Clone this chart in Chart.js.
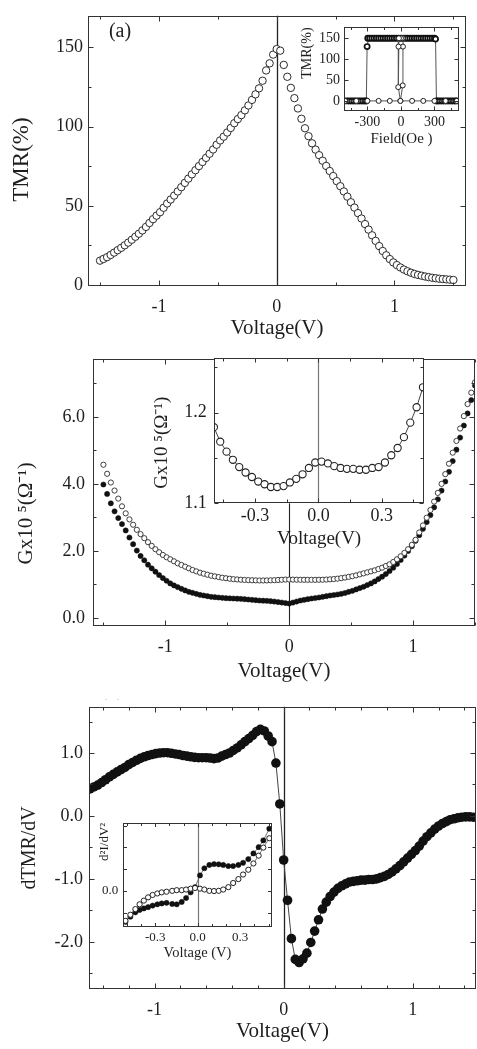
<!DOCTYPE html>
<html><head><meta charset="utf-8">
<script src="https://cdn.jsdelivr.net/npm/chart.js@4.4.1/dist/chart.umd.min.js"></script>
<style>
html,body{margin:0;padding:0;background:#fff;}
body{width:477px;height:1049px;position:relative;overflow:hidden;}
canvas{position:absolute;}
</style></head><body>
<canvas id="ca"></canvas>
<canvas id="cb"></canvas>
<canvas id="cc"></canvas>
<canvas id="ia"></canvas>
<canvas id="ib"></canvas>
<canvas id="ic"></canvas>
<script>
// ---------- data ----------
const voltage = [-1.50,-1.47,-1.44,-1.41,-1.38,-1.35,-1.32,-1.29,-1.26,-1.23,-1.20,-1.17,-1.14,-1.11,-1.08,-1.05,-1.02,-0.99,-0.96,-0.93,-0.90,-0.87,-0.84,-0.81,-0.78,-0.75,-0.72,-0.69,-0.66,-0.63,-0.60,-0.57,-0.54,-0.51,-0.48,-0.45,-0.42,-0.39,-0.36,-0.33,-0.30,-0.27,-0.24,-0.21,-0.18,-0.15,-0.12,-0.09,-0.06,-0.03,0.00,0.03,0.06,0.09,0.12,0.15,0.18,0.21,0.24,0.27,0.30,0.33,0.36,0.39,0.42,0.45,0.48,0.51,0.54,0.57,0.60,0.63,0.66,0.69,0.72,0.75,0.78,0.81,0.84,0.87,0.90,0.93,0.96,0.99,1.02,1.05,1.08,1.11,1.14,1.17,1.20,1.23,1.26,1.29,1.32,1.35,1.38,1.41,1.44,1.47,1.50];

const tmrA = [15.4,16.5,17.6,19.0,20.5,22.0,23.5,25.1,26.8,28.6,
30.5,32.4,34.5,36.7,39.2,41.6,43.8,46.0,48.8,51.5,
54.0,56.5,59.1,61.8,64.5,67.2,69.9,72.5,75.1,77.7,
80.3,82.9,85.6,88.6,91.3,93.7,96.3,99.2,102.2,104.8,
107.3,110.3,113.4,116.9,120.4,124.2,129.0,135.5,140.0,145.5,
149.0,
148,139,131.5,124.5,118,111.5,105,99,94,89.5,
85.5,82,78.5,75.2,72,68.8,65.6,62.4,59.1,55.8,
52.3,48.9,45.4,42.0,38.5,35.0,31.4,27.9,24.6,21.5,
18.8,16.4,14.3,12.6,11.1,9.8,8.7,7.8,7.0,6.4,
5.9,5.4,5.0,4.6,4.3,4.0,3.8,3.6,3.4,3.2];

const gOpen = [4.57,4.30,4.04,3.80,3.56,3.33,3.12,2.94,2.78,2.63,
2.50,2.38,2.26,2.15,2.05,1.96,1.88,1.81,1.75,1.69,
1.63,1.58,1.53,1.48,1.43,1.39,1.35,1.32,1.29,1.26,
1.24,1.22,1.20,1.185,1.17,1.157,1.148,1.14,1.134,1.129,
1.124,1.121,1.118,1.118,1.119,1.123,1.127,1.133,1.139,1.145,
1.146,
1.144,1.141,1.139,1.138,1.138,1.137,1.137,1.139,1.140,1.145,
1.152,1.160,1.172,1.188,1.205,1.225,1.245,1.27,1.30,1.33,
1.36,1.39,1.42,1.46,1.50,1.55,1.60,1.67,1.75,1.84,
1.94,2.05,2.18,2.33,2.55,2.76,2.99,3.22,3.47,3.73,
4.00,4.29,4.60,4.93,5.28,5.65,6.02,6.38,6.72,7.03];

const gFilled = [3.98,3.70,3.42,3.18,2.98,2.80,2.61,2.40,2.20,2.01,
1.85,1.72,1.59,1.48,1.38,1.28,1.19,1.11,1.03,0.97,
0.92,0.87,0.82,0.78,0.75,0.72,0.69,0.67,0.65,0.63,
0.62,0.61,0.60,0.59,0.585,0.58,0.575,0.57,0.56,0.55,
0.54,0.53,0.52,0.515,0.51,0.50,0.49,0.475,0.46,0.445,
0.43,
0.46,0.49,0.52,0.54,0.56,0.58,0.595,0.61,0.63,0.65,
0.67,0.685,0.70,0.72,0.745,0.78,0.81,0.85,0.89,0.93,
0.98,1.03,1.09,1.16,1.23,1.31,1.40,1.50,1.61,1.73,
1.86,2.00,2.14,2.30,2.47,2.66,2.86,3.07,3.30,3.54,
3.80,4.07,4.36,4.68,5.02,5.38,5.74,6.10,6.50,6.93];

const dTmr = [0.43,0.46,0.49,0.53,0.575,0.62,0.66,0.70,0.735,0.77,
0.815,0.85,0.885,0.915,0.94,0.96,0.975,0.99,1.0,1.005,
1.005,0.995,0.985,0.975,0.96,0.95,0.94,0.93,0.925,0.925,
0.925,0.92,0.91,0.92,0.95,0.975,1.0,1.04,1.08,1.13,
1.18,1.23,1.28,1.34,1.375,1.35,1.27,1.18,0.84,0.19,
-0.70,
-1.34,-1.95,-2.28,-2.33,-2.27,-2.18,-2.01,-1.83,-1.65,-1.48,
-1.37,-1.28,-1.21,-1.15,-1.11,-1.08,-1.05,-1.04,-1.03,-1.02,
-1.02,-1.01,-1.01,-1.0,-0.98,-0.96,-0.93,-0.89,-0.84,-0.79,
-0.73,-0.67,-0.61,-0.55,-0.48,-0.40,-0.33,-0.27,-0.21,-0.16,
-0.12,-0.09,-0.06,-0.045,-0.03,-0.02,-0.015,-0.015,-0.02,-0.02];

// inset (a): TMR loop vs field
const loopField = [-500,-480,-460,-440,-420,-400,-380,-360,-340,-320,-310,-303,-297,-280,-260,-240,-220,-200,-180,-160,-140,-120,-100,-80,-60,-40,-20,0,20,40,60,80,100,120,140,160,180,200,220,240,260,280,300,310,318,330,350,370,390,410,430,450,470,490,500];
const loopTmr = [0,0,0,0,0,0,0,0,0,0,0,130,150,150,150,150,150,150,150,150,150,150,150,150,150,150,150,150,150,150,150,150,150,150,150,150,150,150,150,150,150,150,150,148,0,0,0,0,0,0,0,0,0,0,0];
const freeLoopField = [-500,-400,-300,-200,-100,-5,16,18,20,15,0,-18,-22,-24,-5,100,200,300,400,500];
const freeLoopTmr = [0,0,0,0,0,0,37,130,150,150,150,150,130,33,0,0,0,0,0,0];

// inset (b): G (open) at low bias
const insetBVoltage = [-0.495,-0.465,-0.435,-0.405,-0.375,-0.345,-0.315,-0.285,-0.255,-0.225,-0.195,-0.165,-0.135,-0.105,-0.075,-0.045,-0.015,0.015,0.045,0.075,0.105,0.135,0.165,0.195,0.225,0.255,0.285,0.315,0.345,0.375,0.405,0.435,0.465,0.495];
const insetBG = [1.184,1.168,1.157,1.148,1.140,1.134,1.129,1.124,1.121,1.118,1.118,1.119,1.123,1.127,1.132,1.139,1.145,1.146,1.144,1.141,1.139,1.138,1.138,1.137,1.137,1.139,1.140,1.145,1.153,1.161,1.173,1.189,1.206,1.228];

// inset (c): d2I/dV2
const insetCVoltage = [-0.51,-0.475,-0.44,-0.41,-0.38,-0.35,-0.318,-0.285,-0.254,-0.22,-0.18,-0.148,-0.113,-0.082,-0.05,-0.019,0.016,0.047,0.082,0.115,0.148,0.18,0.216,0.25,0.287,0.32,0.357,0.393,0.43,0.463,0.505];
const insetCFilled = [-1.43,-1.19,-0.99,-0.88,-0.81,-0.75,-0.68,-0.62,-0.58,-0.55,-0.60,-0.62,-0.51,-0.33,-0.07,0.17,0.71,1.04,1.19,1.23,1.22,1.19,1.14,1.14,1.19,1.29,1.46,1.72,2.01,2.32,2.86];
const insetCOpen = [-1.38,-1.10,-0.84,-0.62,-0.45,-0.30,-0.19,-0.12,-0.07,-0.04,0.0,0.03,0.03,0.06,0.10,0.13,0.10,0.06,0.0,-0.01,0.0,0.06,0.17,0.36,0.54,0.75,0.97,1.26,1.62,1.99,2.42];

// tick labels
const ticksVoltMain = [-1, 0, 1];
const ticksTmrA = [0, 50, 100, 150];
const ticksGB = [0, 2, 4, 6];
const ticksDTmr = [-2, -1, 0, 1];
const ticksField = [-300, 0, 300];
const ticksTmrInset = [0, 50, 100, 150];
const ticksVoltInset = [-0.3, 0, 0.3];
const ticksGInset = [1.1, 1.2];
const ticksD2I = [0];
// minor tick marks
const minorVoltA = [-1.5, -0.5, 0.5, 1.5];
const minorTmrA = [25, 75, 125];
const minorGB = [1, 3, 5, 7];
const minorVoltC = [-1.4, -1.2, -0.8, -0.6, -0.4, -0.2, 0.2, 0.4, 0.6, 0.8, 1.2, 1.4];
const minorDTmr = [-2.5, -1.5, -0.5, 0.5, 1.5];
const minorFieldTicks = [-450, -150, 150, 450];
const minorVoltB = [-0.45, -0.15, 0.15, 0.45];
const minorGInset = [1.15, 1.25];
const minorVoltCI = [-0.5, -0.4, -0.2, -0.1, 0.1, 0.2, 0.4, 0.5];
const majorD2I = [-1, 0, 1, 2, 3];

// ---------- rendering ----------
const SERIF = "'Liberation Serif', 'Times New Roman', serif";
const INK = '#1e1e1e';
const NB = '\u00A0';

const framePlugin = {
  id: 'frame',
  beforeDraw(chart, args, o) {
    if (!o || !o.fill) return;
    const a = chart.chartArea, c = chart.ctx;
    c.save(); c.fillStyle = o.fill;
    c.fillRect(a.left, a.top, a.right - a.left, a.bottom - a.top);
    c.restore();
  },
  beforeDatasetsDraw(chart, args, o) {
    if (!o || !o.zero) return;
    const a = chart.chartArea, c = chart.ctx, xs = chart.scales.x;
    const px = Math.round(xs.getPixelForValue(0)) + 0.5;
    c.save(); c.strokeStyle = o.zero.color; c.lineWidth = o.zero.width;
    c.beginPath(); c.moveTo(px, a.top); c.lineTo(px, a.bottom); c.stroke(); c.restore();
  },
  afterDraw(chart, args, o) {
    if (!o) return;
    const a = chart.chartArea, c = chart.ctx, xs = chart.scales.x, ys = chart.scales.y;
    c.save();
    c.strokeStyle = o.color || '#333'; c.lineWidth = 1;
    const l = Math.round(a.left) + 0.5, r = Math.round(a.right) - 0.5;
    const t = Math.round(a.top) + 0.5, b = Math.round(a.bottom) - 0.5;
    c.strokeRect(l, t, r - l, b - t);
    c.beginPath();
    const tx = (vals, len) => (vals || []).forEach(v => {
      const p = Math.round(xs.getPixelForValue(v)) + 0.5;
      c.moveTo(p, b); c.lineTo(p, b - len); c.moveTo(p, t); c.lineTo(p, t + len);
    });
    const ty = (vals, len) => (vals || []).forEach(v => {
      const p = Math.round(ys.getPixelForValue(v)) + 0.5;
      c.moveTo(l, p); c.lineTo(l + len, p); c.moveTo(r, p); c.lineTo(r - len, p);
    });
    tx(o.xMajor, o.majorLen); tx(o.xMinor, o.minorLen);
    ty(o.yMajor, o.majorLen); ty(o.yMinor, o.minorLen);
    c.stroke();
    if (o.label) {
      c.fillStyle = INK;
      c.font = o.label.size + 'px ' + SERIF;
      c.textAlign = 'center'; c.textBaseline = 'middle';
      c.fillText(o.label.text, o.label.x, o.label.y);
    }
    c.restore();
  }
};
Chart.register(framePlugin);

function axis(o, size, isX) {
  return {
    type: 'linear', position: isX ? 'bottom' : 'left',
    min: o.min, max: o.max,
    grid: { display: false, drawTicks: false },
    border: { display: false },
    ticks: {
      autoSkip: false, maxRotation: 0, minRotation: 0, padding: o.pad,
      color: INK, font: { family: SERIF, size: o.fs },
      callback: v => o.fmt(v)
    },
    afterBuildTicks: s => { s.ticks = o.labels.map(v => ({ value: v })); },
    afterFit: s => { if (isX) s.height = size; else s.width = size; },
    title: {
      display: true, text: o.title, color: INK,
      font: { family: SERIF, size: o.tfs },
      padding: isX ? { top: 0, bottom: o.tpad } : { top: o.tpad, bottom: 0 },
      align: o.talign || 'center'
    }
  };
}

function panel(id, box, area, o) {
  const [cx, cy, cw, ch] = box;
  const cv = document.getElementById(id);
  cv.width = cw; cv.height = ch;
  cv.style.left = cx + 'px'; cv.style.top = cy + 'px';
  cv.style.width = cw + 'px'; cv.style.height = ch + 'px';
  const L = area.l - cx, T = area.t - cy, R = area.r - cx, B = area.b - cy;
  return new Chart(cv, {
    type: 'scatter',
    data: { datasets: o.datasets },
    options: {
      animation: false, responsive: false, maintainAspectRatio: false, devicePixelRatio: 1,
      events: [],
      layout: { autoPadding: false, padding: { left: 0, top: T, right: cw - R, bottom: 0 } },
      plugins: { legend: { display: false }, tooltip: { enabled: false }, frame: o.frame },
      scales: { x: axis(o.x, ch - B, true), y: axis(o.y, L, false) }
    }
  });
}

const pts = (xs, ys) => xs.map((v, i) => ({ x: v, y: ys[i] }));
const f0 = v => String(v);
const f1 = v => v.toFixed(1);

// Panel (a)
panel('ca', [0, 0, 477, 345], { l: 88, t: 8, r: 466, b: 286 }, {
  datasets: [{
    data: pts(voltage, tmrA), showLine: false,
    pointRadius: 3.7, pointBorderWidth: 1, pointBorderColor: '#2a2a2a', pointBackgroundColor: '#fff'
  }],
  x: { min: -1.602, max: 1.607, labels: ticksVoltMain, fmt: f0, pad: 10, fs: 18, title: 'Voltage(V)', tfs: 21, tpad: 4.4 },
  y: { min: -0.6, max: 170, labels: ticksTmrA, fmt: f0, pad: 5, fs: 18, title: 'TMR(%)' + NB.repeat(3), tfs: 23, tpad: 8.2 },
  frame: { xMajor: ticksVoltMain, xMinor: minorVoltA, yMajor: ticksTmrA, yMinor: minorTmrA, majorLen: 5, minorLen: 3,
    zero: { color: '#222', width: 1.3 }, label: { text: '(a)', x: 120, y: 32, size: 20 } }
});

// Panel (b)
panel('cb', [0, 340, 477, 360], { l: 93, t: 348, r: 475, b: 626 }, {
  datasets: [
    { data: pts(voltage, gOpen), showLine: false, pointRadius: 2.6, pointBorderWidth: 0.9, pointBorderColor: '#2a2a2a', pointBackgroundColor: '#fff' },
    { data: pts(voltage, gFilled), showLine: false, pointRadius: 2.6, pointBorderWidth: 0.5, pointBorderColor: '#111', pointBackgroundColor: '#111' }
  ],
  x: { min: -1.584, max: 1.5, labels: ticksVoltMain, fmt: f0, pad: 10.7, fs: 18, title: 'Voltage(V)', tfs: 21, tpad: 16.4 },
  y: { min: -0.24, max: 7.73, labels: ticksGB, fmt: f1, pad: 8, fs: 18, title: 'Gx10 \u2075(\u03A9\u207B\u00B9)' + NB.repeat(8), tfs: 21, tpad: 13.4 },
  frame: { xMajor: ticksVoltMain, xMinor: minorVoltA, yMajor: ticksGB, yMinor: minorGB, majorLen: 5, minorLen: 3,
    zero: { color: '#222', width: 1.1 }, label: { text: '(b)', x: 112, y: 369, size: 20 } }
});

// Panel (c)
panel('cc', [0, 690, 477, 359], { l: 89, t: 706, r: 476, b: 989 }, {
  datasets: [{
    data: pts(voltage, dTmr), showLine: true, borderColor: '#444', borderWidth: 1,
    pointRadius: 4.8, pointBorderWidth: 0, pointBackgroundColor: '#111'
  }],
  x: { min: -1.508, max: 1.49, labels: ticksVoltMain, fmt: f0, pad: 10.2, fs: 18, title: 'Voltage(V)', tfs: 21, tpad: 5.4 },
  y: { min: -2.75, max: 1.734, labels: ticksDTmr, fmt: f1, pad: 6, fs: 18, title: 'dTMR/dV', tfs: 20, tpad: 18 },
  frame: { xMajor: ticksVoltMain, xMinor: minorVoltC, yMajor: ticksDTmr, yMinor: minorDTmr, majorLen: 5, minorLen: 3,
    zero: { color: '#222', width: 1.3 }, label: { text: '(c)', x: 443, y: 734, size: 20 } }
});

// Inset (a)
panel('ia', [290, 15, 187, 140], { l: 344, t: 20, r: 459, b: 110.5 }, {
  datasets: [
    { data: pts(freeLoopField, freeLoopTmr), showLine: true, borderColor: '#555', borderWidth: 1,
      pointRadius: 2.5, pointBorderWidth: 1, pointBorderColor: '#222', pointBackgroundColor: '#fff' },
    { data: pts(loopField, loopTmr), showLine: true, borderColor: '#555', borderWidth: 1,
      pointRadius: 2.6, pointBorderWidth: 1.7, pointBorderColor: '#111', pointBackgroundColor: '#fff' }
  ],
  x: { min: -510, max: 520, labels: ticksField, fmt: f0, pad: 3.6, fs: 14, title: 'Field(Oe )', tfs: 15, tpad: 6.5 },
  y: { min: -23, max: 176, labels: ticksTmrInset, fmt: f0, pad: 4, fs: 14, title: 'TMR(%)', tfs: 14, tpad: 8.6, talign: 'end' },
  frame: { fill: '#fff', xMajor: ticksField, xMinor: minorFieldTicks, yMajor: ticksTmrInset, yMinor: [], majorLen: 4, minorLen: 2.5 }
});

// Inset (b)
panel('ib', [140, 340, 300, 225], { l: 214.3, t: 348, r: 424, b: 503.3 }, {
  datasets: [{
    data: pts(insetBVoltage, insetBG), showLine: true, borderColor: '#444', borderWidth: 1,
    pointRadius: 3.6, pointBorderWidth: 1.1, pointBorderColor: '#222', pointBackgroundColor: '#fff'
  }],
  x: { min: -0.493, max: 0.5, labels: ticksVoltInset, fmt: f1, pad: 1.9, fs: 18, title: 'Voltage(V)', tfs: 19, tpad: 14.6 },
  y: { min: 1.1, max: 1.26, labels: ticksGInset, fmt: f1, pad: 7.5, fs: 18, title: 'Gx10 \u2075(\u03A9\u207B\u00B9)' + NB.repeat(5), tfs: 19, tpad: 10.6 },
  frame: { fill: '#fff', xMajor: ticksVoltInset, xMinor: minorVoltB, yMajor: ticksGInset, yMinor: minorGInset, majorLen: 4, minorLen: 3,
    zero: { color: '#777', width: 1.2 } }
});

// Inset (c)
panel('ic', [80, 810, 200, 160], { l: 123.3, t: 816.7, r: 271.7, b: 926.7 }, {
  datasets: [
    { data: pts(insetCVoltage, insetCOpen), showLine: true, borderColor: '#555', borderWidth: 0.8,
      pointRadius: 2.6, pointBorderWidth: 1, pointBorderColor: '#222', pointBackgroundColor: '#fff' },
    { data: pts(insetCVoltage, insetCFilled), showLine: true, borderColor: '#555', borderWidth: 0.8,
      pointRadius: 2.6, pointBorderWidth: 0.5, pointBorderColor: '#111', pointBackgroundColor: '#111' }
  ],
  x: { min: -0.525, max: 0.522, labels: ticksVoltInset, fmt: f1, pad: 3, fs: 13, title: 'Voltage (V)', tfs: 14.5, tpad: 7.8 },
  y: { min: -1.65, max: 3.13, labels: ticksD2I, fmt: f1, pad: 5, fs: 13, title: 'd\u00B2I/dV\u00B2', tfs: 13, tpad: 17.2, talign: 'end' },
  frame: { fill: '#fff', xMajor: ticksVoltInset, xMinor: minorVoltCI, yMajor: majorD2I, yMinor: [], majorLen: 3.5, minorLen: 2.5,
    zero: { color: '#777', width: 1.2 } }
});
</script>
</body></html>
